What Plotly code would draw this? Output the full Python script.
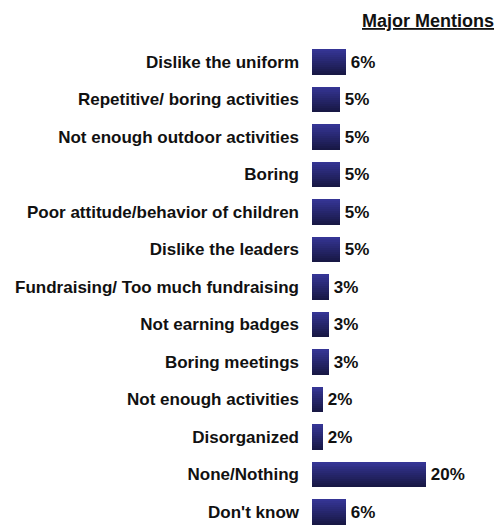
import plotly.graph_objects as go

# Survey responses: reasons mentioned, share of respondents (%)
categories = [
    "Dislike the uniform",
    "Repetitive/ boring activities",
    "Not enough outdoor activities",
    "Boring",
    "Poor attitude/behavior of children",
    "Dislike the leaders",
    "Fundraising/ Too much fundraising",
    "Not earning badges",
    "Boring meetings",
    "Not enough activities",
    "Disorganized",
    "None/Nothing",
    "Don't know",
]
values = [6, 5, 5, 5, 5, 5, 3, 3, 3, 2, 2, 20, 6]
value_labels = [f" {v}%" for v in values]

FONT = "Liberation Sans, Arial, sans-serif"
INK = "#111111"

# Vertical shading of each bar: lighter navy at the top, dark at the bottom
top_rgb = (0x35, 0x35, 0x95)
bottom_rgb = (0x18, 0x18, 0x45)
n_slices = 13
bar_width = 0.68

fig = go.Figure()
for i in range(n_slices):
    t = i / (n_slices - 1)
    rgb = tuple(round(a + (b - a) * t) for a, b in zip(top_rgb, bottom_rgb))
    color = "rgb(%d,%d,%d)" % rgb
    slice_w = bar_width / n_slices
    mid = i == n_slices // 2
    fig.add_trace(go.Bar(
        x=values,
        y=categories,
        orientation="h",
        width=slice_w + 0.004,
        offset=-bar_width / 2 + i * slice_w,
        marker=dict(color=color, line=dict(width=0)),
        text=value_labels if mid else None,
        textposition="outside" if mid else "none",
        constraintext="none",
        cliponaxis=False,
        textfont=dict(family=FONT, size=17, color=INK, weight="bold"),
        hoverinfo="skip",
        showlegend=False,
    ))

fig.update_layout(
    width=497,
    height=525,
    margin=dict(l=312, r=0, t=43, b=0),
    paper_bgcolor="white",
    plot_bgcolor="white",
    barmode="overlay",
    bargap=0,
    font=dict(family=FONT, size=17, color=INK),
    annotations=[dict(
        text="<b><u>Major Mentions</u></b>",
        xref="paper", yref="paper",
        x=1, y=1, xanchor="right", yanchor="middle",
        xshift=-1, yshift=22,
        showarrow=False,
        font=dict(family=FONT, size=18, color=INK),
    )],
)
fig.update_xaxes(range=[0, 32.5], visible=False, fixedrange=True)
fig.update_yaxes(
    type="category",
    range=[12.35, -0.5],
    showgrid=False, zeroline=False, showline=False,
    ticks="", ticklabelstandoff=12,
    tickfont=dict(family=FONT, size=17, color=INK, weight="bold"),
    fixedrange=True,
)

fig.write_html("out.html")
